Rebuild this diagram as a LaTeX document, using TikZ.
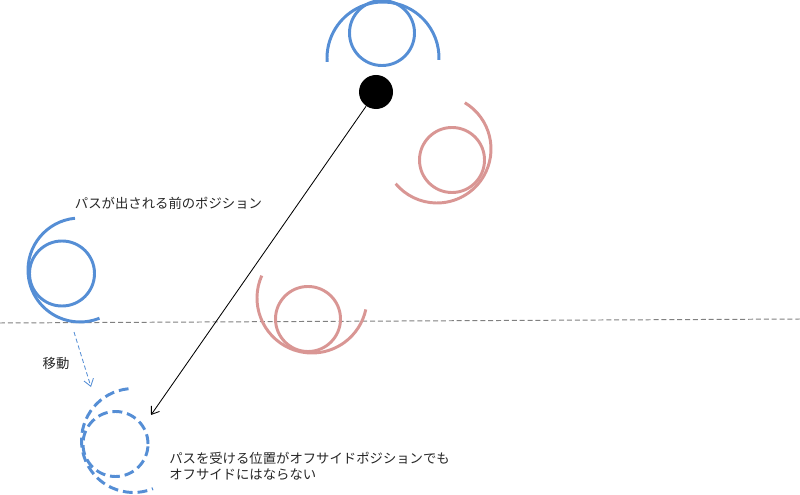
\documentclass[tikz,border=0pt]{standalone}
\usepackage{fontspec}
\newfontfamily\jpfont{Noto Sans CJK JP}
\usetikzlibrary{arrows.meta}
\definecolor{homeblue}{RGB}{85,142,213}
\definecolor{awayred}{RGB}{217,150,148}
\begin{document}
\begin{tikzpicture}[x=0.025cm, y=0.025cm,
    head/.style={circle, minimum size=1.625cm, inner sep=0pt, line width=2.1pt},
    body/.style={line width=2.1pt},
    dashy/.style={dash pattern=on 7pt off 3.5pt},
    ball/.style={circle, minimum size=0.85cm, inner sep=0pt, fill=black},
    label/.style={font=\jpfont\fontsize{9.5pt}{11.7pt}\selectfont, text=black!85, inner sep=0pt},
    >={Straight Barb[length=5pt, width=7pt]}]
    \useasboundingbox (0, 0) rectangle (800, 494);

    \draw[gray, line width=0.7pt, dash pattern=on 3.5pt off 2.1pt] (0, 171) -- (800, 175);

    % passer
    \node[head, draw=homeblue] (p-1) at (382, 461) {};
    \draw[body, homeblue] (383, 436) ++(-2:56) arc[start angle=-2, end angle=184, radius=56];
    \node[ball] (ball) at (376, 402) {};

    % defenders
    \node[head, draw=awayred] (d-1) at (452, 334) {};
    \draw[body, awayred] (437, 345) ++(59:54) arc[start angle=59, end angle=-140, radius=54];

    \node[head, draw=awayred] (d-2) at (308, 175) {};
    \draw[body, awayred] (312, 196) ++(156:55) arc[start angle=156, end angle=348, radius=55];

    % receiver before the pass
    \node[head, draw=homeblue] (p-2) at (62, 220.5) {};
    \draw[body, homeblue] (80, 224) ++(95.5:52) arc[start angle=95.5, end angle=292, radius=52];

    % receiver after moving
    \node[head, draw=homeblue, dashy] (p-3) at (115.5, 50) {};
    \draw[body, homeblue, dashy] (133.5, 53.5) ++(95.5:52) arc[start angle=95.5, end angle=292, radius=52];

    \coordinate (pass-end) at (151, 79);
    \draw[->, line width=0.6pt] (ball) -- (pass-end);

    \coordinate (move-start) at (74, 162);
    \coordinate (move-end) at (91, 107);
    \draw[->, homeblue, line width=0.6pt, dash pattern=on 3pt off 2pt] (move-start) -- (move-end);

    \node[label] (t-before) at (168.5, 291) {パスが出される前のポジション};
    \node[label] (t-move) at (56, 130.5) {移動};
    \node[label, anchor=west, align=left] (t-recv) at (169, 27.5) {パスを受ける位置がオフサイドポジションでも\\オフサイドにはならない};
\end{tikzpicture}
\end{document}
